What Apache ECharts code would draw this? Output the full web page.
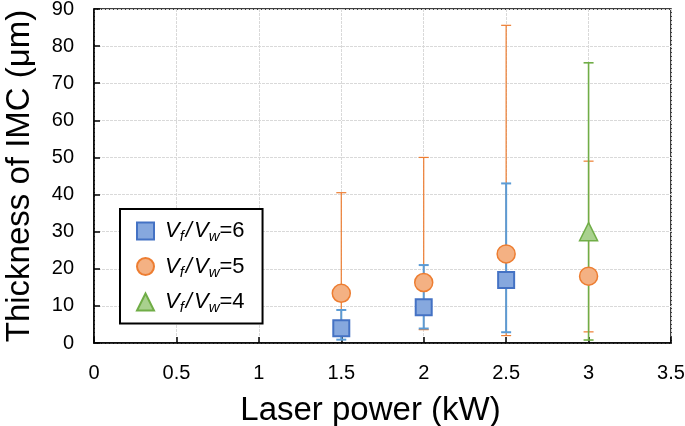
<!DOCTYPE html>
<html>
<head>
<meta charset="utf-8">
<script src="https://cdn.jsdelivr.net/npm/echarts@6/dist/echarts.min.js"></script>
<style>
html,body{margin:0;padding:0;background:#fff;}
#chart{width:685px;height:426px;}
</style>
</head>
<body>
<div id="chart"></div>
<script>
// ---- data ----
const xTicks = [0, 0.5, 1, 1.5, 2, 2.5, 3, 3.5];
const yTicks = [0, 10, 20, 30, 40, 50, 60, 70, 80, 90];

const seriesNames = ['Vf/Vw=6', 'Vf/Vw=5', 'Vf/Vw=4'];

const blueX = [1.5, 2, 2.5];
const blueMean = [4.0, 9.6, 17.0];
const blueLow = [0.9, 3.9, 2.9];
const blueHigh = [8.9, 21.0, 43.0];

const orangeX = [1.5, 2, 2.5, 3];
const orangeMean = [13.4, 16.3, 24.0, 18.0];
const orangeLow = [3.0, 3.6, 2.0, 3.0];
const orangeHigh = [40.5, 50.0, 85.6, 49.0];

const greenX = [3];
const greenMean = [30.0];
const greenLow = [0.8];
const greenHigh = [75.5];

// ---- build ----
function pts(xs, ys) { return xs.map((x, i) => [x, ys[i]]); }
function errs(xs, lo, hi) { return xs.map((x, i) => [x, lo[i], hi[i]]); }

function errorSeries(data, color, width) {
  return {
    type: 'custom',
    silent: true,
    data: data,
    encode: { x: 0, y: [1, 2] },
    renderItem: function (params, api) {
      const x = api.value(0);
      const lo = api.coord([x, api.value(1)]);
      const hi = api.coord([x, api.value(2)]);
      const cw = 5;
      const style = { stroke: color, lineWidth: width, fill: null };
      return {
        type: 'group',
        children: [
          { type: 'line', shape: { x1: lo[0], y1: lo[1], x2: hi[0], y2: hi[1] }, style: style },
          { type: 'line', shape: { x1: lo[0] - cw, y1: lo[1], x2: lo[0] + cw, y2: lo[1] }, style: style },
          { type: 'line', shape: { x1: hi[0] - cw, y1: hi[1], x2: hi[0] + cw, y2: hi[1] }, style: style }
        ]
      };
    },
    z: 2
  };
}

const FONT = '"Liberation Sans", Arial, sans-serif';

const chart = echarts.init(document.getElementById('chart'), null, { renderer: 'canvas' });

chart.setOption({
  animation: false,
  backgroundColor: '#fff',
  grid: {
    left: 94, right: 14, top: 9, bottom: 83,
    outerBoundsMode: 'none',
    containLabel: false,
    show: true, borderColor: '#000', borderWidth: 1.5, backgroundColor: 'transparent'
  },
  xAxis: {
    type: 'value',
    min: xTicks[0], max: xTicks[xTicks.length - 1], interval: 0.5,
    name: 'Laser power (kW)',
    nameLocation: 'middle',
    nameGap: 51,
    nameTextStyle: { fontSize: 33, color: '#000', fontFamily: FONT, padding: [0, 24, 0, 0] },
    axisLine: { show: true, lineStyle: { color: '#000', width: 1.5 } },
    axisTick: { show: true, inside: true, length: 6, lineStyle: { color: '#000', width: 1.5 } },
    axisLabel: { color: '#000', fontSize: 20, fontFamily: FONT, margin: 20 },
    splitLine: { show: true, lineStyle: { color: '#d9d9d9', width: 1, type: [3, 1] } }
  },
  yAxis: {
    type: 'value',
    min: yTicks[0], max: yTicks[yTicks.length - 1], interval: 10,
    name: 'Thickness of IMC (μm)',
    nameLocation: 'middle',
    nameGap: 58,
    nameTextStyle: { fontSize: 33, color: '#000', fontFamily: FONT },
    axisLine: { show: true, lineStyle: { color: '#000', width: 1.5 } },
    axisTick: { show: true, inside: true, length: 6, lineStyle: { color: '#000', width: 1.5 } },
    axisLabel: { color: '#000', fontSize: 20, fontFamily: FONT, margin: 20 },
    splitLine: { show: true, lineStyle: { color: '#d9d9d9', width: 1, type: [3, 1] } }
  },
  legend: {
    data: seriesNames,
    orient: 'vertical',
    left: 120, top: 209,
    backgroundColor: '#fff',
    borderColor: '#000',
    borderWidth: 2,
    borderRadius: 0,
    padding: [11, 18, 8, 16],
    itemGap: 11,
    itemWidth: 17,
    itemHeight: 17,
    formatter: function (name) {
      return '{a|V}{s|f}{d|/}{i|V}{s|w}{n|=' + name.slice(-1) + '}';
    },
    textStyle: {
      color: '#000',
      fontFamily: FONT,
      fontSize: 22,
      rich: {
        a: { fontSize: 22, fontStyle: 'italic', fontFamily: FONT, color: '#000', lineHeight: 27, padding: [0, 0, 0, 6] },
        i: { fontSize: 22, fontStyle: 'italic', fontFamily: FONT, color: '#000', lineHeight: 27 },
        d: { fontSize: 22, fontStyle: 'italic', fontFamily: FONT, color: '#000', lineHeight: 27, padding: [0, 2, 0, 2] },
        s: { fontSize: 15, fontStyle: 'italic', fontFamily: FONT, color: '#000', lineHeight: 15, verticalAlign: 'bottom' },
        n: { fontSize: 22, fontFamily: FONT, color: '#000', lineHeight: 27 }
      }
    }
  },
  series: [
    errorSeries(errs(orangeX, orangeLow, orangeHigh), '#ED7D31', 1.2),
    errorSeries(errs(blueX, blueLow, blueHigh), '#5B9BD5', 2),
    errorSeries(errs(greenX, greenLow, greenHigh), '#70AD47', 1.6),
    {
      name: seriesNames[1], type: 'scatter', data: pts(orangeX, orangeMean),
      symbol: 'circle', symbolSize: 18,
      itemStyle: { color: '#F4B183', borderColor: '#ED7D31', borderWidth: 1.5, opacity: 1 },
      z: 5
    },
    {
      name: seriesNames[0], type: 'scatter', data: pts(blueX, blueMean),
      symbol: 'rect', symbolSize: 16,
      itemStyle: { color: '#86A8DE', borderColor: '#4472C4', borderWidth: 2, opacity: 1 },
      z: 6
    },
    {
      name: seriesNames[2], type: 'scatter', data: pts(greenX, greenMean),
      symbol: 'triangle', symbolSize: 18,
      itemStyle: { color: '#A9D18E', borderColor: '#70AD47', borderWidth: 1.5, opacity: 1 },
      z: 6
    }
  ]
});
</script>
</body>
</html>
